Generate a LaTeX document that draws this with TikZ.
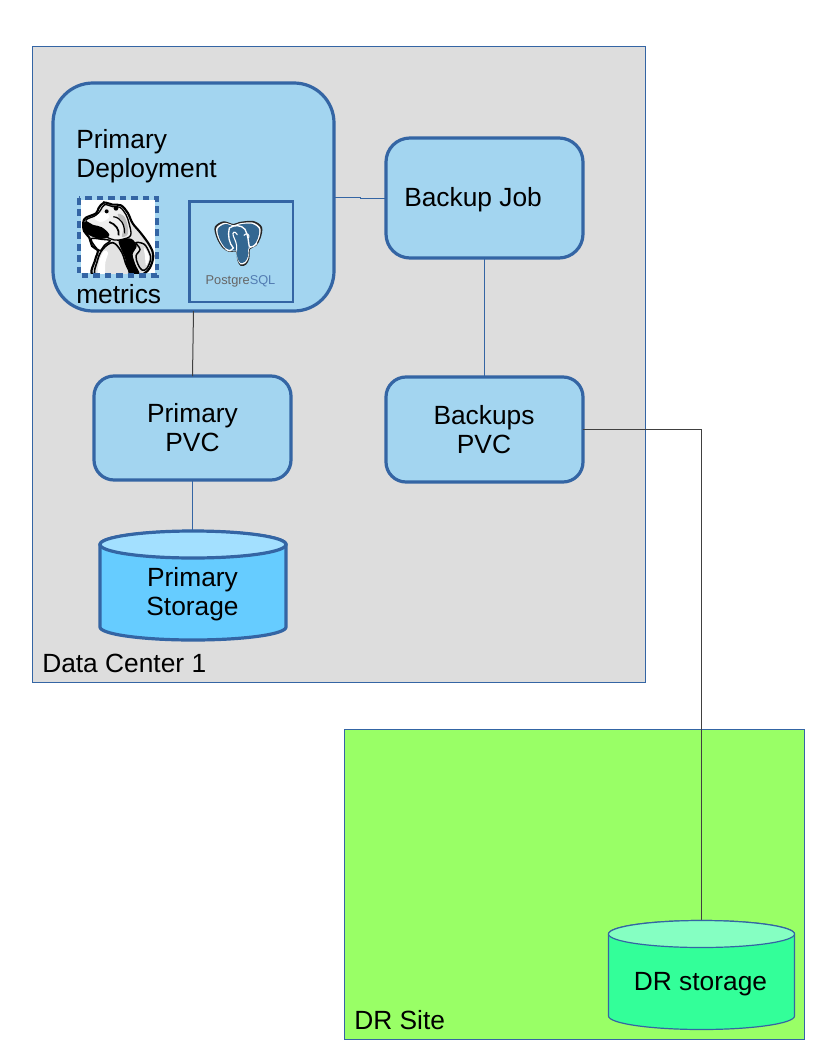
\documentclass[tikz,border=0pt]{standalone}
\usepackage{fontspec}
\setmainfont{Liberation Sans}
\definecolor{lnk}{HTML}{3465A4}
\definecolor{boxb}{HTML}{A3D5F0}
\definecolor{bg}{HTML}{DDDDDD}
\definecolor{grn}{HTML}{99FF66}
\definecolor{cylb}{HTML}{66CCFF}
\definecolor{cylbt}{HTML}{A3E0FF}
\definecolor{cylg}{HTML}{33FF99}
\definecolor{cylgt}{HTML}{85FFC2}
\definecolor{pgb}{HTML}{336791}
\begin{document}
\begin{tikzpicture}[x=0.75pt,y=-0.75pt,
 txt/.style={font=\fontsize{19.75pt}{21.75pt}\selectfont,align=center,inner sep=0,text=black},
 area/.style={draw=lnk,line width=0.75pt},
 rbox/.style={draw=lnk,line width=2.4pt,fill=boxb,rectangle,outer sep=0pt,inner sep=0pt},
 thin link/.style={draw=lnk,line width=0.75pt},
 dark link/.style={draw=black!75,line width=0.75pt},
 hip/.style={plot[smooth cycle,tension=0.6] coordinates {#1}}]
\useasboundingbox (0,0) rectangle (816,1056);
\fill[white] (0,0) rectangle (816,1056);
% areas
\path[area,fill=bg] (32.5,46.5) rectangle (645.5,682.5);
\path[area,fill=grn] (344.5,729.5) rectangle (804.5,1039.5);
\node[txt,anchor=base west] (dc) at (42,672) {Data Center 1};
\node[txt,anchor=base west] (dr) at (354,1029) {DR Site};
% boxes
\node[rbox,rounded corners=30pt,minimum width=210.75pt,minimum height=171pt] (dep) at (193.5,197) {};
\node[rbox,rounded corners=18pt,minimum width=147.75pt,minimum height=90pt] (job) at (484.5,198) {};
\node[rbox,rounded corners=15pt,minimum width=147.75pt,minimum height=78pt] (ppvc) at (192.5,428) {};
\node[rbox,rounded corners=15pt,minimum width=147.75pt,minimum height=78.75pt] (bpvc) at (484.5,429.5) {};
% cylinder anchors
\coordinate (cylA) at (192.5,531);
\coordinate (cylB) at (701.5,921);
% connectors
\draw[thin link] (dep.east) -- (360.5,197) -- (360.5,198) -- (job.west);
\draw[dark link] (dep.south) -- (ppvc.north);
\draw[thin link] (job.south) -- (bpvc.north);
\draw[thin link] (ppvc.south) -- (cylA);
\draw[dark link] (bpvc.east) -- (701.5,429.5) -- (cylB);
% texts in boxes
\node[txt,anchor=base west] (t1) at (76,148) {Primary};
\node[txt,anchor=base west] (t2) at (76,177) {Deployment};
\node[txt,anchor=base west] (t3) at (76,303) {metrics};
\node[txt,anchor=base west] (t4) at (404,206) {Backup Job};
\node[txt] (t5) at (192.5,428) {Primary\\PVC};
\node[txt] (t6) at (484,430) {Backups\\PVC};
% cylinder primary
\path[draw=lnk,line width=2.4pt,fill=cylb] (100,544.5) -- (100,627) arc[start angle=180,end angle=0,x radius=93,y radius=13] -- (286,544.5) arc[start angle=0,end angle=-180,x radius=93,y radius=13] -- cycle;
\path[draw=lnk,line width=2.4pt,fill=cylbt] (193,544.5) ellipse[x radius=93,y radius=13.5];
\node[txt] (t7) at (192.5,594) {Primary\\Storage};
% cylinder DR
\path[draw=lnk,line width=0.9pt,fill=cylg] (608.5,934) -- (608.5,1016) arc[start angle=180,end angle=0,x radius=93,y radius=13.5] -- (794.5,934) arc[start angle=0,end angle=-180,x radius=93,y radius=13.5] -- cycle;
\path[draw=lnk,line width=0.9pt,fill=cylgt] (701.5,934) ellipse[x radius=93,y radius=13.5];
\node[txt] (t8) at (700.5,984) {DR storage};
% hippo image
\fill[white] (81,200) rectangle (155,273);
\begin{scope}[shift={(76,196)},scale=0.3333]
\clip (15,12) rectangle (238,232);
% whole figure: outline, then pale interior
\filldraw[fill=gray!22,draw=black,line width=1.6pt] plot[smooth cycle,tension=0.6] coordinates {(22,78) (30,65) (60,52) (68,36) (84,20) (110,26) (135,28) (155,50) (170,82) (195,112) (222,150) (232,180) (222,215) (205,232) (180,240) (55,240) (58,190) (66,165) (48,150) (40,125) (24,105)};
% black torso
\fill[black] plot[smooth cycle,tension=0.5] coordinates {(128,135) (165,128) (182,150) (170,175) (178,205) (190,235) (150,235) (148,190)};
% belly
\filldraw[fill=gray!22,draw=black,line width=1.2pt] plot[smooth cycle,tension=0.6] coordinates {(62,240) (64,195) (80,160) (110,140) (135,165) (148,200) (155,240)};
\fill[white] plot[smooth cycle,tension=0.6] coordinates {(66,235) (70,195) (84,165) (96,170) (88,200) (86,235)};
% right arm
\filldraw[fill=gray!30,draw=black,line width=1.1pt] plot[smooth cycle,tension=0.6] coordinates {(180,140) (205,145) (220,170) (224,190) (212,218) (198,222) (186,205) (180,180) (192,160)};
\fill[white] plot[smooth cycle,tension=0.6] coordinates {(204,155) (216,172) (219,190) (210,208) (207,180)};
% left arm
\filldraw[fill=white,draw=black,line width=1.1pt] plot[smooth cycle,tension=0.6] coordinates {(46,128) (78,130) (102,134) (85,148) (72,164) (56,150)};
% head
\filldraw[fill=gray!12,draw=black,line width=1pt] plot[smooth cycle,tension=0.6] coordinates {(30,72) (60,58) (74,42) (86,26) (110,32) (132,34) (150,56) (160,85) (164,118) (140,130) (115,132) (90,122) (75,108) (45,88)};
\fill[white] plot[smooth cycle,tension=0.6] coordinates {(56,66) (76,50) (92,52) (100,62) (90,72) (72,78)};
\fill[gray!50] plot[smooth cycle,tension=0.6] coordinates {(125,55) (145,62) (155,90) (155,115) (138,122) (142,92)};
% mouth
\fill[black] plot[smooth cycle,tension=0.6] coordinates {(21,84) (32,76) (50,86) (78,94) (100,116) (85,128) (60,126) (30,112) (20,96)};
% eyes and face marks
\fill[black] (92,46) circle[radius=6];
\fill[black] (120,37) circle[radius=7];
\fill[black] (84,19) circle[radius=4];
\draw[black,line width=1.3pt] (100,78) .. controls (120,85) and (130,100) .. (128,118);
\draw[black,line width=0.9pt] (112,62) .. controls (135,65) and (146,85) .. (146,112);
\end{scope}
\draw[lnk,line width=3.4pt,dash pattern=on 5pt off 3.6pt] (79,198) rectangle (157,275.5);
% PostgreSQL box
\draw[lnk,line width=1.6pt] (189.5,201.5) rectangle (293,302);
\begin{scope}[shift={(200,212)},scale=0.3333]
\def\elephant{plot[smooth cycle,tension=0.55] coordinates {(44,45) (70,28) (100,36) (118,30) (160,27) (186,45) (182,78) (168,102) (150,112) (148,140) (138,158) (122,162) (112,145) (108,120) (88,120) (68,108) (50,78)}}
\fill[black!85] \elephant;
\begin{scope}[scale around={0.93:(115,90)}]
\fill[white] \elephant;
\end{scope}
\begin{scope}[scale around={0.87:(115,90)}]
\fill[pgb] \elephant;
\end{scope}
\draw[white,line width=1pt,line cap=round] (88,48) .. controls (82,70) and (88,95) .. (100,108) .. controls (92,118) and (82,118) .. (78,112);
\draw[white,line width=1pt,line cap=round] (88,48) .. controls (100,38) and (125,38) .. (135,52) .. controls (145,70) and (145,90) .. (148,105) .. controls (160,105) and (165,100) .. (170,95);
\draw[white,line width=0.8pt,line cap=round] (112,68) .. controls (105,55) and (95,60) .. (100,72) .. controls (105,85) and (112,95) .. (110,115);
\draw[white,line width=0.8pt,line cap=round] (132,70) .. controls (140,60) and (150,68) .. (146,78);
\end{scope}
\node[font=\fontsize{9.6pt}{10pt}\selectfont,inner sep=0,text=black!60,anchor=base] (pg) at (240.5,284) {Postgre\textcolor{lnk!85}{SQL}};
\end{tikzpicture}
\end{document}
